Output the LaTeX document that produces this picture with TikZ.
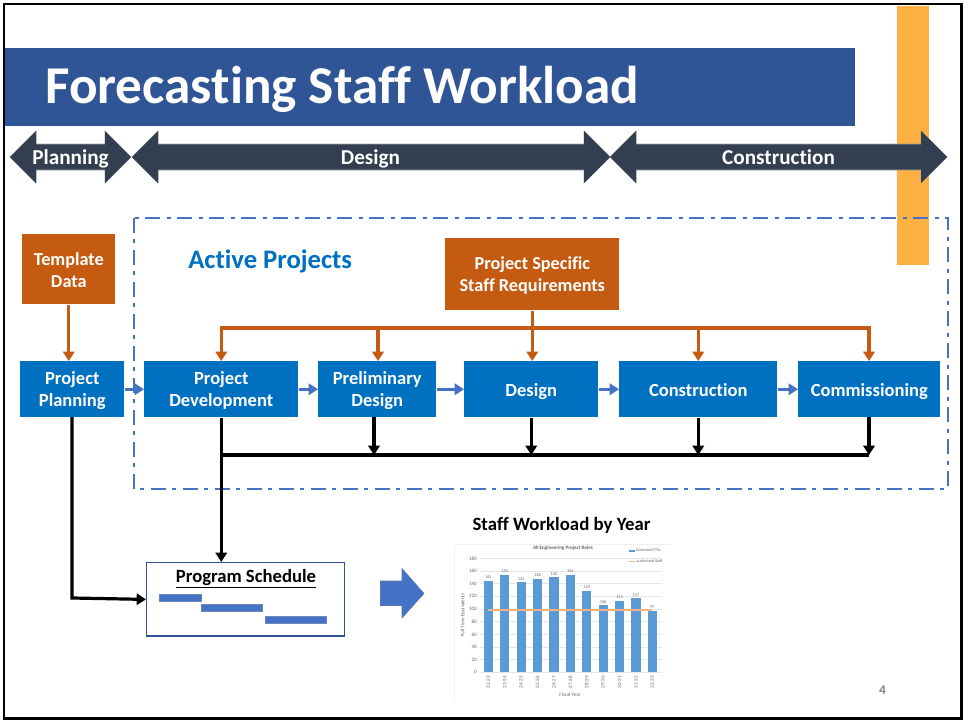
\documentclass[tikz,border=0pt]{standalone}
\usepackage{fontspec}
\setmainfont[Ligatures={NoCommon,NoDiscretionary}]{Carlito}
\usetikzlibrary{arrows.meta,shapes.arrows}
\definecolor{titleblue}{HTML}{2F5597}
\definecolor{darkslate}{HTML}{333F50}
\definecolor{boxblue}{HTML}{0070C0}
\definecolor{rust}{HTML}{C55A11}
\definecolor{amber}{HTML}{FFB042}
\definecolor{midblue}{HTML}{4472C4}
\definecolor{barblue}{HTML}{5B9BD5}
\definecolor{staffline}{HTML}{F4B183}
\newcommand{\boxline}[2][4.5pt]{\raisebox{-#1}[0pt][0pt]{#2}}
\tikzset{
  x=0.75pt,y=-0.75pt,
  stepbox/.style={fill=boxblue,text=white,font=\bfseries\fontsize{13.9}{16.5}\selectfont,align=center,inner sep=0pt,anchor=north west},
  rustbox/.style={fill=rust,text=white,font=\bfseries\fontsize{13.7}{16.5}\selectfont,align=center,inner sep=0pt,anchor=north west},
  flowarrow/.style={midblue,line width=2.1pt,-{Triangle[length=7pt,width=8.5pt]}},
  rustline/.style={rust,line width=2.4pt},
  rustarrow/.style={rustline,-{Triangle[length=7pt,width=8.5pt]}},
  blackline/.style={black,line width=2.4pt},
  blackarrow/.style={blackline,-{Triangle[length=7pt,width=8.5pt]}},
  ganttbar/.style={fill=midblue,draw=titleblue!70,line width=0.4pt},
  chartnum/.style={text=black!60,font=\fontsize{3.2}{4}\selectfont,inner sep=0pt},
  charttick/.style={text=black!60,font=\fontsize{3.8}{4}\selectfont,inner sep=0pt},
}
\newcommand{\phasearrow}[5]{%
  \path[fill=darkslate,draw=gray!70,line width=0.5pt] (#2,157) -- (#2+26,131) -- (#2+26,144) -- (#3-26,144) -- (#3-26,131) -- (#3,157) -- (#3-26,183) -- (#3-26,170) -- (#2+26,170) -- (#2+26,183) -- cycle;
  \path[fill=darkslate] (#2,157) -- (#2+26,131) -- (#2+26,183) -- cycle (#3,157) -- (#3-26,131) -- (#3-26,183) -- cycle;
  \node[text=white,font=\bfseries\fontsize{15.9}{17}\selectfont,inner sep=0pt,anchor=base] (#1) at (#4,164) {#5};
}
\begin{document}
\begin{tikzpicture}
\useasboundingbox (0,0) rectangle (965,721);
\fill[white] (0,0) rectangle (965,721);
% orange strip
\fill[amber] (897,6) rectangle (929,265);
% title
\fill[titleblue] (5,48) rectangle (855,126);
\node[text=white,font=\bfseries\fontsize{39.9}{44}\selectfont,anchor=base west,inner sep=0pt] (title) at (45,103) {Forecasting Staff Workload};
% phases
\phasearrow{pplan}{10}{131}{70.5}{Planning}
\phasearrow{pdes}{132}{610}{370.5}{Design}
\phasearrow{pcon}{610}{947}{778.5}{Construction}
% dash dot frame
\draw[midblue,line width=1.5pt,dash pattern=on 11pt off 5pt on 3pt off 5pt] (134,218) rectangle (948,489);
\node[text=boxblue,font=\bfseries\fontsize{20}{24}\selectfont,anchor=base west,inner sep=0pt] (active) at (188,268.5) {Active Projects};
% boxes
\node[rustbox,minimum width=69.75pt,minimum height=52.5pt] (tmpl) at (22,234) {\boxline[5.25pt]{Template}\\\boxline[5.25pt]{Data}};
\node[rustbox,minimum width=130.5pt,minimum height=54pt] (req) at (445,238) {\boxline{Project Specific}\\\boxline{Staff Requirements}};
\node[stepbox,minimum width=78pt,minimum height=42pt] (plan) at (20,361) {\boxline{Project}\\\boxline{Planning}};
\node[stepbox,minimum width=115.5pt,minimum height=42pt] (dev) at (144,361) {\boxline{Project}\\\boxline{Development}};
\node[stepbox,minimum width=88.5pt,minimum height=42pt] (pre) at (318,361) {\boxline{Preliminary}\\\boxline{Design}};
\node[stepbox,minimum width=100.5pt,minimum height=42pt] (des) at (464,361) {\boxline[5.25pt]{Design}};
\node[stepbox,minimum width=118.5pt,minimum height=42pt] (con) at (619,361) {\boxline[5.25pt]{Construction}};
\node[stepbox,minimum width=106.5pt,minimum height=42pt] (com) at (798,361) {\boxline[5.25pt]{Commissioning}};
% flow arrows
\draw[flowarrow] (plan) -- (dev);
\draw[flowarrow] (dev) -- (pre);
\draw[flowarrow] (pre) -- (des);
\draw[flowarrow] (des) -- (con);
\draw[flowarrow] (con) -- (com);
% rust connectors
\draw[rustarrow] (tmpl.south) -- (tmpl.south |- plan.north);
\coordinate (rustbus) at (req.south |- 0,328);
\draw[rustline] (req.south) -- (rustbus);
\draw[rustline,line cap=rect] (dev.north |- rustbus) -- (com.north |- rustbus);
\draw[rustarrow] (dev.north |- rustbus) -- (dev.north);
\draw[rustarrow] (378,328) -- (378,361);
\draw[rustarrow] (rustbus) -- (rustbus |- des.north);
\draw[rustarrow] (con.north |- rustbus) -- (con.north);
\draw[rustarrow] (869,328) -- (869,361);
% program schedule
\node[draw=titleblue,line width=1.1pt,fill=white,minimum width=148.5pt,minimum height=55pt,inner sep=0pt,anchor=north west] (sched) at (146,562) {};
\node[font=\bfseries\fontsize{14}{17}\selectfont,inner sep=0pt,anchor=base] (schedt) at (246,582) {\underline{Program Schedule}};
\draw[ganttbar] (159,594) rectangle (201,601);
\draw[ganttbar] (201,604) rectangle (262,611);
\draw[ganttbar] (265,616) rectangle (326,623);
% black connectors
\coordinate (blackbus) at (0,455);
\draw[blackline] (dev.south |- blackbus) -- (com.south |- blackbus);
\draw[blackarrow] (dev.south) -- (dev.south |- sched.north);
\draw[blackarrow] (374,417) -- (374,455);
\draw[blackarrow] (des.south) -- (des.south |- blackbus);
\draw[blackarrow] (con.south) -- (con.south |- blackbus);
\draw[blackarrow] (869,417) -- (869,455);
\draw[blackarrow] (72,417) -- (72,598) -- (sched.west);
% big arrow
\fill[midblue,draw=titleblue!80,line width=0.4pt] (380.5,581) -- (402,581) -- (402,568.5) -- (424,593.5) -- (402,618) -- (402,605.5) -- (380.5,605.5) -- cycle;
% chart
\node[font=\bfseries\fontsize{14.1}{16}\selectfont,inner sep=0pt,anchor=base] (charttitle) at (561.5,530.5) {Staff Workload by Year};
\draw[black!6,line width=0.5pt] (454,702) -- (454,544) -- (670,544);
\foreach \v in {0,20,...,180}{
  \draw[black!10,line width=0.3pt] (480,672.3-\v*0.633) -- (662,672.3-\v*0.633);
  \node[charttick,anchor=east] at (477,672.3-\v*0.633) {\v};
}
\node[text=black!60,font=\bfseries\fontsize{3.8}{4}\selectfont,inner sep=0pt] at (563,548) {All Engineering Project Roles};
\foreach \i/\v/\l in {0/145/22-23,1/154/23-24,2/142/24-25,3/148/25-26,4/150/26-27,5/154/27-28,6/129/28-29,7/106/29-30,8/113/30-31,9/117/31-32,10/97/32-33}{
  \fill[barblue] ({488.3+\i*16.4-4.6},{672.3-\v*0.633}) rectangle ({488.3+\i*16.4+4.6},672.3);
  \node[chartnum] at ({488.3+\i*16.4},{672.3-\v*0.633-3.5}) {\v};
  \node[charttick,rotate=90,anchor=east] at ({488.3+\i*16.4},676) {\l};
}
\draw[staffline,line width=1.5pt] (487.5,610) -- (652,610);
\node[charttick,rotate=90] at (463,615) {Full Time Equivalents};
\node[charttick] at (570,694.5) {Fiscal Year};
\fill[barblue] (629,549.5) rectangle (635,551.5);
\node[text=black!60,font=\fontsize{3}{4}\selectfont,inner sep=0pt,anchor=west] at (636,550.5) {Estimated FTEs};
\draw[staffline,line width=0.8pt] (629,561.5) -- (635,561.5);
\node[text=black!60,font=\fontsize{3}{4}\selectfont,inner sep=0pt,anchor=west] at (636,561.5) {Authorized Staff};
% page number
\node[text=black!50,font=\bfseries\fontsize{10}{11}\selectfont,inner sep=0pt] (pagenum) at (882.5,690) {4};
% frame
\draw[black,line width=1.9pt] (4,4) rectangle (961.5,718.5);
\end{tikzpicture}
\end{document}
